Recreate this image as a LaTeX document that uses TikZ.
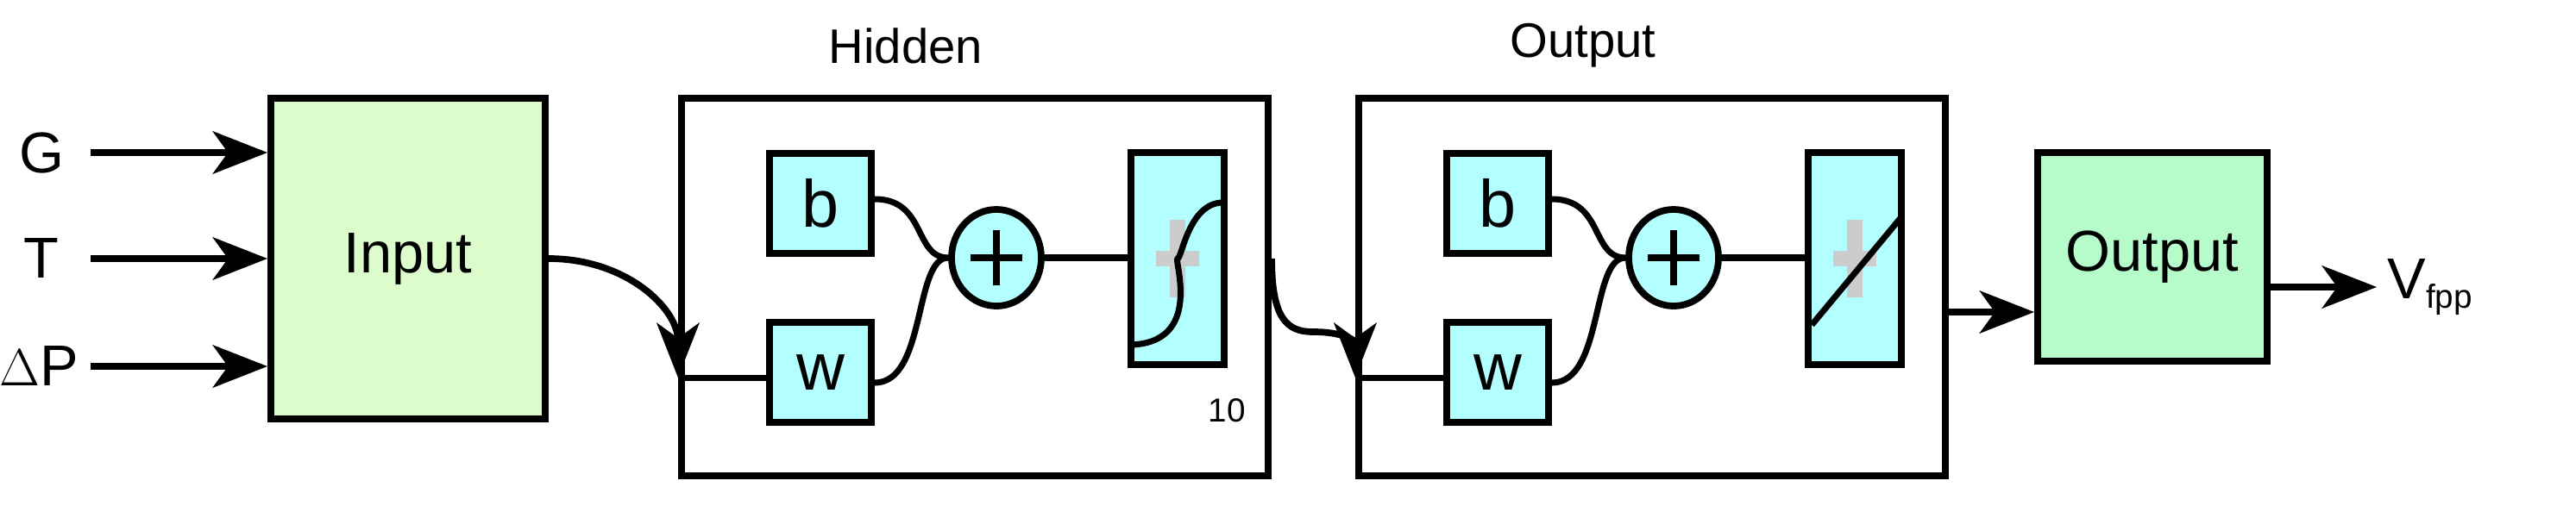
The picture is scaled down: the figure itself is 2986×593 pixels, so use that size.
\documentclass[tikz,border=0pt]{standalone}
\usepackage{fontspec}
\setmainfont{Liberation Sans}
\usetikzlibrary{arrows.meta,shapes.geometric,calc}
\definecolor{ingreen}{HTML}{DDFCCC}
\definecolor{outgreen}{HTML}{B6FCCB}
\definecolor{cyanb}{HTML}{B3FFFF}
\begin{document}
\begin{tikzpicture}[x=0.01cm,y=-0.01cm,
  box/.style={draw,line width=2.2pt,inner sep=0pt},
  wb/.style={box,fill=cyanb,minimum width=1.18cm,minimum height=1.16cm,font=\fontsize{22}{22}\selectfont},
  act/.style={box,fill=cyanb,minimum width=1.08cm,minimum height=2.46cm},
  sum/.style={box,fill=cyanb,ellipse,minimum width=1.04cm,minimum height=1.12cm},
  wire/.style={line width=2pt},
  arr/.style={line width=2.2pt,-{Stealth[length=18pt,width=14pt,inset=5pt]}},
  lbl/.style={font=\fontsize{19}{19}\selectfont},
  ttl/.style={font=\fontsize{16}{16}\selectfont}]
\useasboundingbox (0,0) rectangle (2986,593);
% input labels
\node[lbl] (G) at (48,177) {G};
\node[lbl] (T) at (48,300) {T};
\node[lbl] (dP) at (45,425) {$\Delta$P};
\node[box,fill=ingreen,minimum width=3.18cm,minimum height=3.72cm,lbl] (in) at (473,300) {Input};
\draw[arr] (105,177) -- (in.west|-G);
\draw[arr] (105,300) -- (in.west|-T);
\draw[arr] (105,425) -- (in.west|-dP);
% layers
\foreach \n/\dx/\t in {h/0/Hidden,o/785/Output}{
  \node[box,minimum width=6.8cm,minimum height=4.38cm] (\n L) at (1130+\dx,333) {};
  \node[ttl] (\n T) at (1050+\dx,53) {\t};
  \node[wb] (\n b) at (951+\dx,236) {b};
  \node[wb] (\n w) at (951+\dx,432) {w};
  \node[sum] (\n s) at (1155+\dx,299) {};
  \draw[line width=2pt] (\n s.center) +(-30,0) -- +(30,0) (\n s.center) +(0,-32) -- +(0,32);
  \node[act] (\n a) at (1365+\dx,300) {};
  \draw[gray!40,line width=5pt] (\n a.center) +(0,-45) -- +(0,45) (\n a.center) +(-25,0) -- +(25,0);
  \coordinate (\n in) at ([yshift=-0.06cm]\n L.west|-\n w);
  \draw[wire] (\n in) -- (\n in-|\n w.west);
  \coordinate (\n bo) at ([yshift=0.05cm]\n b.east);
  \coordinate (\n wo) at ([yshift=-0.12cm]\n w.east);
  \draw[wire] (\n bo) .. controls +(60,0) and +(-40,0) .. (\n s.west);
  \draw[wire] (\n wo) .. controls +(60,0) and +(-40,0) .. (\n s.west);
  \draw[wire] (\n s.west-|\n s.east) -- (\n s.west-|\n a.west);
}
\node[font=\fontsize{11}{11}\selectfont] (ten) at (1422,476) {10};
% sigmoid
\draw[wire] ([yshift=-1.0cm]ha.west) .. controls +(0.9cm,0) and +(-0.05cm,0) .. (ha.center) .. controls +(0.05cm,0) and +(-0.4cm,0) .. ([xshift=-0.05cm,yshift=0.65cm]ha.east);
% linear
\draw[wire] ([xshift=0.08cm,yshift=0.5cm]oa.south west) -- ([xshift=-0.05cm,yshift=-0.8cm]oa.north east);
% connectors
\draw[arr] (in.east) .. controls +(90,0) and +(0,-80) .. (hin);
\coordinate (hr) at ([yshift=0.33cm]hL.east);
\coordinate (hm) at (1522,385);
\draw[arr] (hr) .. controls +(0,70) and +(-30,0) .. (hm) .. controls +(40,0) and +(0,-40) .. (oin);
\node[box,fill=outgreen,minimum width=2.66cm,minimum height=2.42cm,lbl] (out) at (2495,298) {Output};
\coordinate (or) at (oL.east|-0,362);
\draw[arr] (or) -- (out.west|-or);
\node[lbl,anchor=west] (V) at (2755,333) {V\raisebox{-0.3ex}{\fontsize{11}{11}\selectfont fpp}};
\draw[arr] (out.east|-V) -- (V.west);
\end{tikzpicture}
\end{document}
